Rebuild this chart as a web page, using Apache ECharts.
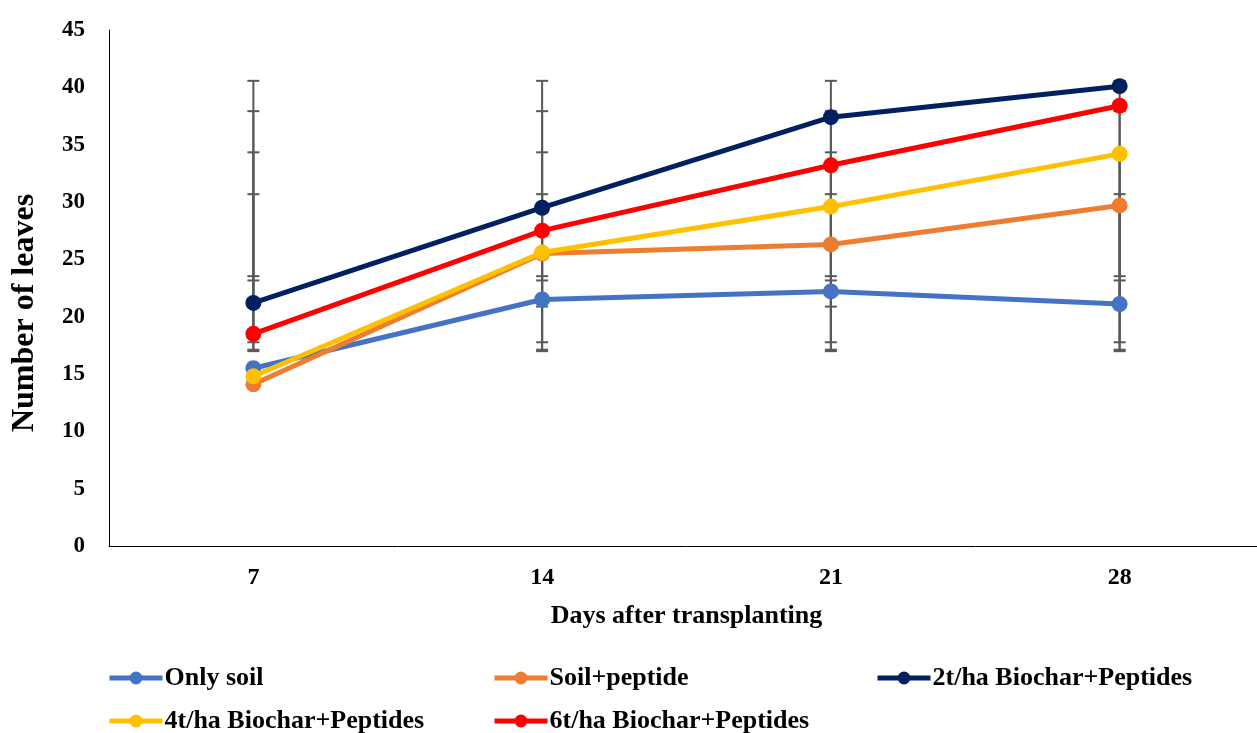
<!DOCTYPE html>
<html><head><meta charset="utf-8">
<script src="https://cdn.jsdelivr.net/npm/echarts@6/dist/echarts.min.js"></script>
<style>html,body{margin:0;padding:0;background:#fff;overflow:hidden;width:1257px;height:733px}#c{width:1270px;height:733px}</style>
</head><body><div id="c"></div>
<script>
const days = ['7', '14', '21', '28'];
const seriesNames = ['Only soil', 'Soil+peptide', '2t/ha Biochar+Peptides', '4t/ha Biochar+Peptides', '6t/ha Biochar+Peptides'];
const onlySoil = [15.5, 21.5, 22.2, 21.1];
const soilPeptide = [14.1, 25.5, 26.3, 29.7];
const biochar2 = [21.2, 29.5, 37.4, 40.1];
const biochar4 = [14.8, 25.6, 29.6, 34.2];
const biochar6 = [18.5, 27.5, 33.2, 38.4];
const yTicks = [0, 5, 10, 15, 20, 25, 30, 35, 40, 45];
const colors = ['#4472C4', '#ED7D31', '#002060', '#FFC000', '#FF0000'];
const values = [onlySoil, soilPeptide, biochar2, biochar4, biochar6];

// Excel "Standard deviation" error bars: drawn at series mean +/- sample SD
function errRange(arr) {
  const m = arr.reduce((a, b) => a + b, 0) / arr.length;
  const v = arr.reduce((a, b) => a + (b - m) * (b - m), 0) / (arr.length - 1);
  const s = Math.sqrt(v);
  return [m - s, m + s];
}

const font = 'Liberation Serif, Times New Roman, serif';
const series = [];
values.forEach((arr, k) => {
  const r = errRange(arr);
  series.push({
    type: 'custom', name: seriesNames[k] + ' err', z: 1, silent: true,
    data: days.map((d, i) => [i, r[0], r[1]]),
    renderItem: function (params, api) {
      const x = api.coord([api.value(0), 0])[0];
      const lo = api.coord([api.value(0), api.value(1)])[1];
      const hi = api.coord([api.value(0), api.value(2)])[1];
      const w = 6;
      const st = { stroke: '#595959', lineWidth: 2 };
      return { type: 'group', children: [
        { type: 'line', shape: { x1: x, y1: lo, x2: x, y2: hi }, style: st },
        { type: 'line', shape: { x1: x - w, y1: lo, x2: x + w, y2: lo }, style: st },
        { type: 'line', shape: { x1: x - w, y1: hi, x2: x + w, y2: hi }, style: st }
      ]};
    }
  });
});
values.forEach((arr, k) => {
  series.push({
    type: 'line', name: seriesNames[k], data: arr, z: 2 + k,
    symbol: 'circle', symbolSize: 16,
    lineStyle: { color: colors[k], width: 5 },
    itemStyle: { color: colors[k] },
    animation: false
  });
});

const legendPos = [[107, 665], [492, 665], [875, 665], [107, 708], [492, 708]];
const legends = seriesNames.map((n, k) => ({
  data: [n], left: legendPos[k][0], top: legendPos[k][1], padding: 0,
  itemWidth: 53, itemHeight: 16, itemGap: 5,
  lineStyle: { width: 5 },
  textStyle: { fontFamily: font, fontWeight: 'bold', fontSize: 26, color: '#000', padding: [0, 0, 0, -3] }
}));

const chart = echarts.init(document.getElementById('c'), null, { renderer: 'canvas' });
chart.setOption({
  animation: false,
  backgroundColor: '#fff',
  legend: legends,
  grid: { left: 109, top: 30, width: 1155, height: 516, containLabel: false },
  xAxis: {
    type: 'category', data: days, boundaryGap: true,
    name: 'Days after transplanting', nameLocation: 'middle', nameGap: 57,
    nameTextStyle: { fontFamily: font, fontWeight: 'bold', fontSize: 26, color: '#000' },
    axisLine: { lineStyle: { color: '#000', width: 1 } },
    axisTick: { show: false },
    axisLabel: { fontFamily: font, fontWeight: 'bold', fontSize: 24, color: '#000', margin: 20 }
  },
  yAxis: {
    type: 'value', min: yTicks[0], max: yTicks[yTicks.length - 1], interval: 5,
    name: 'Number of leaves', nameLocation: 'middle', nameGap: 68, nameRotate: 90,
    nameTextStyle: { fontFamily: font, fontWeight: 'bold', fontSize: 32, color: '#000', padding: [0, 50, 0, 0] },
    axisLine: { show: true, lineStyle: { color: '#000', width: 1 } },
    axisTick: { show: false },
    splitLine: { show: false },
    axisLabel: { fontFamily: font, fontWeight: 'bold', fontSize: 23, color: '#000', margin: 24 }
  },
  series: series
});
</script></body></html>
